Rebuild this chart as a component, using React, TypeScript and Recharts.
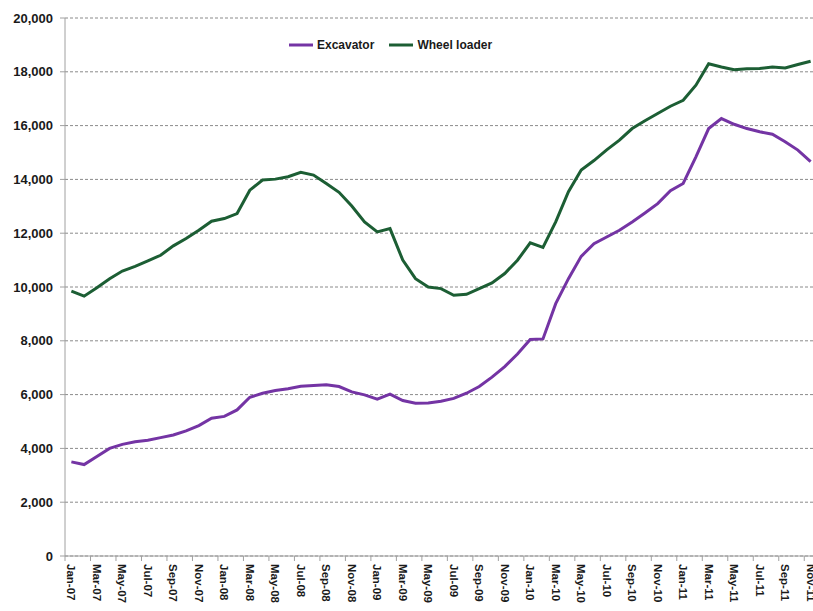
import React from 'react';
import { LineChart, Line, XAxis, YAxis, CartesianGrid } from 'recharts';

const months = [
  'Jan-07','Feb-07','Mar-07','Apr-07','May-07','Jun-07','Jul-07','Aug-07','Sep-07','Oct-07','Nov-07','Dec-07',
  'Jan-08','Feb-08','Mar-08','Apr-08','May-08','Jun-08','Jul-08','Aug-08','Sep-08','Oct-08','Nov-08','Dec-08',
  'Jan-09','Feb-09','Mar-09','Apr-09','May-09','Jun-09','Jul-09','Aug-09','Sep-09','Oct-09','Nov-09','Dec-09',
  'Jan-10','Feb-10','Mar-10','Apr-10','May-10','Jun-10','Jul-10','Aug-10','Sep-10','Oct-10','Nov-10','Dec-10',
  'Jan-11','Feb-11','Mar-11','Apr-11','May-11','Jun-11','Jul-11','Aug-11','Sep-11','Oct-11','Nov-11',
];

const excavator = [
  3500, 3400, 3700, 4000, 4150, 4250, 4300, 4400, 4500, 4650, 4850, 5120,
  5190, 5430, 5900, 6050, 6150, 6220, 6310, 6340, 6370, 6300, 6100, 5990,
  5830, 6020, 5780, 5680, 5690, 5750, 5860, 6050, 6300, 6650, 7040, 7510,
  8050, 8070, 9380, 10310, 11140, 11610, 11860, 12110, 12420, 12750, 13100, 13580,
  13850, 14840, 15890, 16260, 16050, 15890, 15770, 15680, 15400, 15090, 14660,
];

const wheelLoader = [
  9850, 9660, 9975, 10310, 10595, 10770, 10970, 11180, 11530, 11800, 12110, 12445,
  12545, 12730, 13600, 13975, 14010, 14100, 14260, 14160, 13850, 13520, 13010, 12420,
  12050, 12170, 11000, 10310, 10000, 9940, 9690, 9730, 9940, 10150, 10500, 10995,
  11640, 11470, 12420, 13540, 14350, 14700, 15100, 15460, 15890, 16180, 16450, 16720,
  16940, 17500, 18300, 18180, 18080, 18110, 18120, 18180, 18140, 18270, 18390,
];

const yTicks = [0, 2000, 4000, 6000, 8000, 10000, 12000, 14000, 16000, 18000, 20000];

const data = months.map((m, i) => ({ month: m, excavator: excavator[i], wheel: wheelLoader[i] }));

const PURPLE = '#7434A4';
const GREEN = '#1C5E34';
const FONT = '"Liberation Sans", Arial, sans-serif';

const CHART_W = 817;
const CHART_H = 640;
const Y_W = 65;
const TOP = 18;
const PLOT_H = 538;
const BAND = (CHART_W - Y_W) / months.length;

const XTick = (props: any) => {
  const { x, y, payload } = props;
  const tx = x - BAND / 2;
  return (
    <g>
      <line x1={tx} y1={y} x2={tx} y2={y + 5} stroke="#a0a0a0" strokeWidth={1} />
      <text
        x={x}
        y={y + 8}
        transform={`rotate(90, ${x}, ${y + 8})`}
        textAnchor="start"
        dominantBaseline="central"
        fontFamily={FONT}
        fontWeight="bold"
        fontSize={11.5}
        fill="#1a1a1a"
      >
        {payload.value}
      </text>
    </g>
  );
};

const LegendBox = () => (
  <div style={{ position: 'absolute', left: 289, top: 38, display: 'flex', alignItems: 'center', fontFamily: FONT, fontWeight: 'bold', fontSize: 12, color: '#1a1a1a', whiteSpace: 'nowrap' }}>
    <svg width={24} height={10} style={{ marginRight: 4 }}>
      <line x1={0} y1={5} x2={24} y2={5} stroke={PURPLE} strokeWidth={3} />
    </svg>
    <span style={{ marginRight: 15 }}>Excavator</span>
    <svg width={24} height={10} style={{ marginRight: 4 }}>
      <line x1={0} y1={5} x2={24} y2={5} stroke={GREEN} strokeWidth={3} />
    </svg>
    <span>Wheel loader</span>
  </div>
);

export default function App() {
  return (
    <div style={{ position: 'absolute', left: 0, top: 0, width: 813, height: 611, overflow: 'hidden', background: '#fff' }}>
      <LineChart width={CHART_W} height={CHART_H} data={data} margin={{ top: TOP, right: 0, left: 0, bottom: 0 }}>
        <CartesianGrid vertical={false} stroke="#8a8a8a" strokeDasharray="3 2" />
        <XAxis
          dataKey="month"
          interval={1}
          tick={<XTick />}
          tickLine={false}
          tickSize={0}
          tickMargin={0}
          padding={{ left: BAND / 2, right: BAND / 2 }}
          axisLine={{ stroke: '#a0a0a0' }}
          height={CHART_H - TOP - PLOT_H}
        />
        <YAxis
          width={Y_W}
          domain={[0, 20000]}
          ticks={yTicks}
          tickFormatter={(v: number) => v.toLocaleString('en-US')}
          tick={{ fontFamily: FONT, fontWeight: 'bold', fontSize: 13, fill: '#1a1a1a' }}
          tickLine={{ stroke: '#a0a0a0' }}
          tickSize={5}
          tickMargin={7}
          axisLine={{ stroke: '#a0a0a0' }}
        />
        <Line type="linear" dataKey="excavator" stroke={PURPLE} strokeWidth={3} dot={false} isAnimationActive={false} />
        <Line type="linear" dataKey="wheel" stroke={GREEN} strokeWidth={3} dot={false} isAnimationActive={false} />
      </LineChart>
      <LegendBox />
    </div>
  );
}
